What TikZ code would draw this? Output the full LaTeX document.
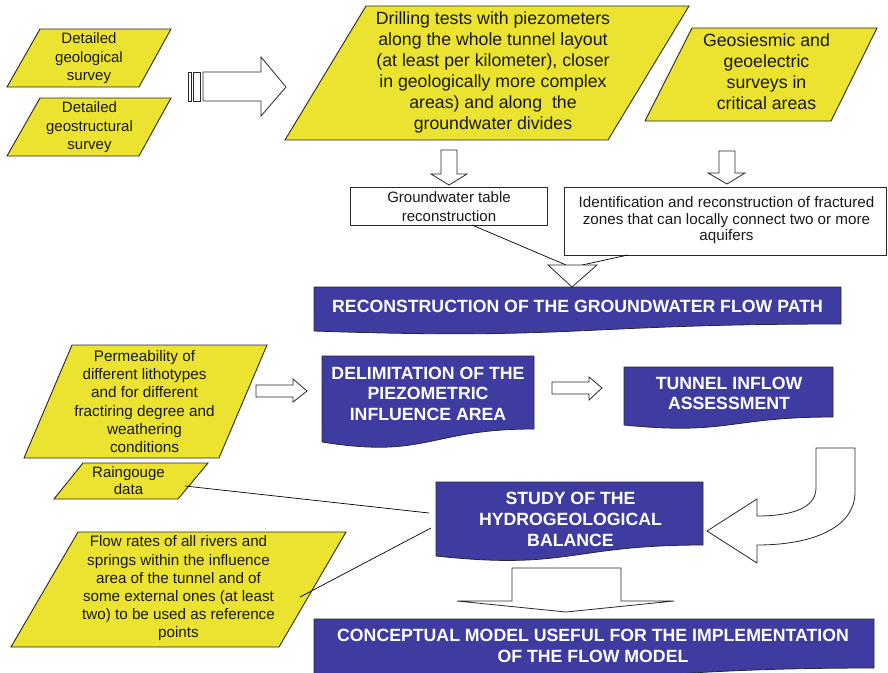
\documentclass[tikz,border=0pt]{standalone}
\usepackage{fontspec}
\setmainfont{Liberation Sans}
\definecolor{ylw}{RGB}{235,227,48}
\definecolor{blu}{RGB}{62,60,160}
\definecolor{edge}{RGB}{40,40,40}
\tikzset{
  ybox/.style={fill=ylw,draw=edge,line width=0.9pt},
  wbox/.style={fill=white,draw=edge,line width=0.8pt},
  bbox/.style={fill=blu,draw=edge,line width=0.8pt},
  warrow/.style={fill=white,draw=edge,line width=0.8pt,line join=miter},
  conn/.style={draw=black,line width=0.7pt},
  smalltxt/.style={inner sep=0pt,align=center,text=black!90},
  bigtxt/.style={inner sep=0pt,align=center,text=black!90,font=\fontsize{17.7}{21}\selectfont},
  bluetxt/.style={inner sep=0pt,align=center,text=white,font=\fontsize{17.7}{21}\selectfont\bfseries},
}
\newcommand{\docshape}[5]{% x1 top x2 yR yL
  \path[bbox] (#1,#2) -- (#3,#2) -- (#3,#4)
    .. controls ({(#1+#3)/2},#4) and ({(#1+#3)/2},{#5+1.31*(#5-#4)}) .. (#1,#5) -- cycle;}
\begin{document}
\begin{tikzpicture}[x=1pt,y=-1pt]
\useasboundingbox (0,0) rectangle (888,672);
% ---------- yellow parallelograms ----------
\path[ybox] (40,29) -- (171,29) -- (139,87) -- (7,87) -- cycle;
\path[ybox] (40,98) -- (171,98) -- (139,156) -- (7,156) -- cycle;
\path[ybox] (366,6) -- (689,6) -- (608,140) -- (285,140) -- cycle;
\path[ybox] (692,28) -- (877,28) -- (831,121) -- (645,121) -- cycle;
\path[ybox] (72,345) -- (267,345) -- (219,458) -- (24,458) -- cycle;
\path[ybox] (83,463) -- (208,463) -- (178,499) -- (54,499) -- cycle;
\path[ybox] (78,532) -- (346,532) -- (279,647) -- (11,647) -- cycle;
\node[smalltxt,font=\fontsize{15}{18.5}\selectfont] (geol) at (89,58.5) {Detailed\\geological\\survey};
\node[smalltxt,font=\fontsize{15}{18.5}\selectfont] (geost) at (89.5,127.5) {Detailed\\geostructural\\survey};
\node[bigtxt] (drill) at (493,72.5) {Drilling tests with piezometers\\along the whole tunnel layout\\(at least per kilometer), closer\\in geologically more complex\\areas) and along\ \ the\\groundwater divides};
\node[bigtxt] (geos) at (766.5,72) {Geosiesmic and\\geoelectric\\surveys in\\critical areas};
\node[smalltxt,font=\fontsize{15.3}{18.2}\selectfont] (perm) at (144.5,401.5) {Permeability of\\different lithotypes\\and for different\\fractiring degree and\\weathering\\conditions};
\node[smalltxt,font=\fontsize{15}{17}\selectfont] (rain) at (128.5,480.5) {Raingouge\\data};
\node[smalltxt,font=\fontsize{15.2}{18.2}\selectfont] (flow) at (178.5,588.5) {Flow rates of all rivers and\\springs within the influence\\area of the tunnel and of\\some external ones (at least\\two) to be used as reference\\points};
% ---------- white boxes ----------
\path[wbox] (350,187) rectangle (547,225);
\path[wbox] (564,187) rectangle (886,255);
\node[smalltxt,font=\fontsize{15}{19}\selectfont] (gwt) at (449,206.5) {Groundwater table\\reconstruction};
\node[smalltxt,font=\fontsize{15.2}{16.5}\selectfont] (idf) at (726.5,220.5) {Identification and reconstruction of fractured\\zones that can locally connect two or more\\aquifers};
% ---------- blue document boxes ----------
\docshape{314}{287}{841}{324}{331}
\docshape{322}{356}{534}{429}{442}
\docshape{624}{367}{833}{417}{425}
\docshape{436}{482}{703}{545}{556}
\docshape{314}{619}{874}{668}{680}
\node[bluetxt] (recon) at (577.5,306) {RECONSTRUCTION OF THE GROUNDWATER FLOW PATH};
\node[bluetxt,font=\fontsize{17.7}{20.5}\selectfont\bfseries] (delim) at (428,393.5) {DELIMITATION OF THE\\PIEZOMETRIC\\INFLUENCE AREA};
\node[bluetxt,font=\fontsize{17.7}{20}\selectfont\bfseries] (tunnel) at (729,393) {TUNNEL INFLOW\\ASSESSMENT};
\node[bluetxt] (study) at (570.5,519) {STUDY OF THE\\HYDROGEOLOGICAL\\BALANCE};
\node[bluetxt] (concept) at (593,645.5) {CONCEPTUAL MODEL USEFUL FOR THE IMPLEMENTATION\\OF THE FLOW MODEL};
% ---------- block arrows ----------
\path[warrow] (188,72) rectangle (191,101);
\path[warrow] (193,72) rectangle (200,101);
\path[warrow] (203,72) -- (261,72) -- (261,57) -- (286,87) -- (261,116) -- (261,101) -- (203,101) -- cycle;
\path[warrow] (441,150) -- (457,150) -- (457,174) -- (467,174) -- (449,185) -- (431,174) -- (441,174) -- cycle;
\path[warrow] (719,151) -- (735,151) -- (735,173) -- (745,173) -- (727,184) -- (708,173) -- (719,173) -- cycle;
\path[warrow] (256,385) -- (293,385) -- (293,379) -- (307,391) -- (293,402) -- (293,397) -- (256,397) -- cycle;
\path[warrow] (552,382) -- (589,382) -- (589,377) -- (602,388) -- (589,400) -- (589,394) -- (552,394) -- cycle;
\path[warrow] (816,448) -- (855,448) -- (855,492)
   .. controls (855,528) and (812,545) .. (757,545) -- (757,563) -- (707,531) -- (757,499) -- (757,516)
   .. controls (792,516) and (816,508) .. (816,488) -- cycle;
\path[warrow] (512,568) -- (621,568) -- (621,601) -- (674,601) -- (566,612) -- (457,601) -- (512,601) -- cycle;
% ---------- funnel triangle and connectors ----------
\coordinate (gwb) at (472,225);
\coordinate (idb) at (628,255);
\coordinate (funl) at (566,265);
\coordinate (funr) at (582,265);
\draw[conn] (gwb) -- (funl);
\draw[conn] (idb) -- (funr);
\path[warrow] (548,265) -- (597,265) -- (572,287) -- cycle;
\coordinate (rainend) at (185,486);
\coordinate (flowend) at (300,597);
\coordinate (studyin1) at (429,513);
\coordinate (studyin2) at (431,528);
\draw[conn] (rainend) -- (studyin1);
\draw[conn] (flowend) -- (studyin2);
\end{tikzpicture}
\end{document}
